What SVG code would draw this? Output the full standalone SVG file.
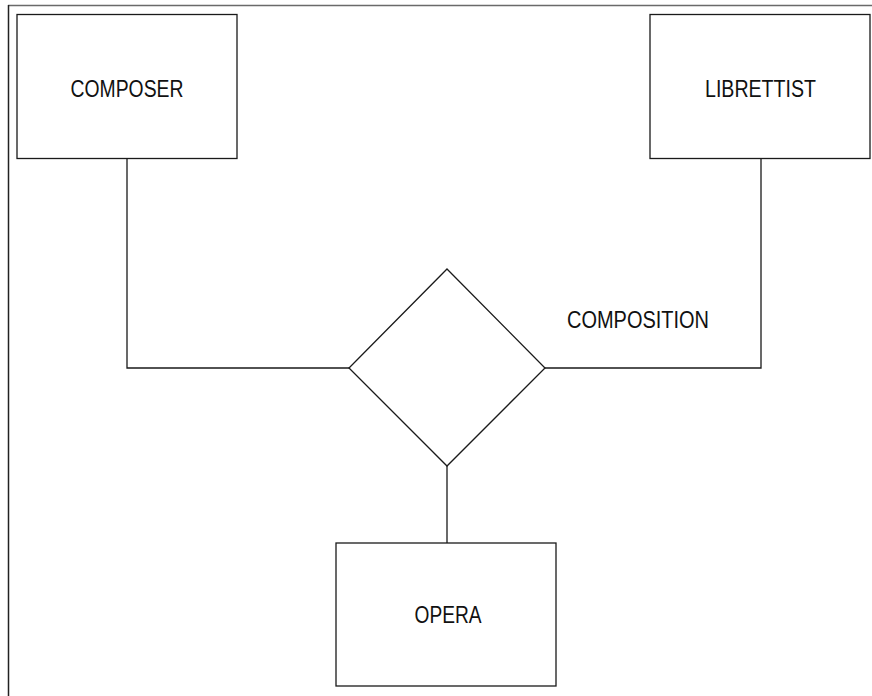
<svg xmlns="http://www.w3.org/2000/svg" width="872" height="696" viewBox="0 0 872 696">
<style>
.box{fill:#fff;stroke:#1a1a1a;stroke-width:1.3}
.ln{fill:none;stroke:#1a1a1a;stroke-width:1.3}
.lbl{font-family:"Liberation Sans",Arial,sans-serif;font-size:23px;fill:#111;text-anchor:middle}
</style>
<rect width="872" height="696" fill="#fff"/>
<g id="frame">
<line x1="8" y1="5.5" x2="872" y2="5.5" stroke="#6a6a6a" stroke-width="1.5"/>
<line x1="8.5" y1="5" x2="8.5" y2="696" stroke="#222" stroke-width="1.5"/>
</g>
<g id="connectors">
<polyline class="ln" points="127,158 127,368 349,368"/>
<polyline class="ln" points="545,368 761,368 761,158"/>
<line class="ln" x1="447" y1="466" x2="447" y2="543"/>
</g>
<g id="composer">
<rect class="box" x="17" y="14.5" width="220" height="144"/>
<text class="lbl" x="127" y="97" textLength="113" lengthAdjust="spacingAndGlyphs">COMPOSER</text>
</g>
<g id="librettist">
<rect class="box" x="650" y="14.5" width="220" height="144"/>
<text class="lbl" x="760.5" y="97" textLength="111" lengthAdjust="spacingAndGlyphs">LIBRETTIST</text>
</g>
<g id="composition">
<polygon class="box" points="447,269 545,368 447,466 349,368"/>
<text class="lbl" x="638" y="328" textLength="142" lengthAdjust="spacingAndGlyphs">COMPOSITION</text>
</g>
<g id="opera">
<rect class="box" x="336" y="543" width="220" height="143"/>
<text class="lbl" x="448" y="623" textLength="67" lengthAdjust="spacingAndGlyphs">OPERA</text>
</g>
</svg>
